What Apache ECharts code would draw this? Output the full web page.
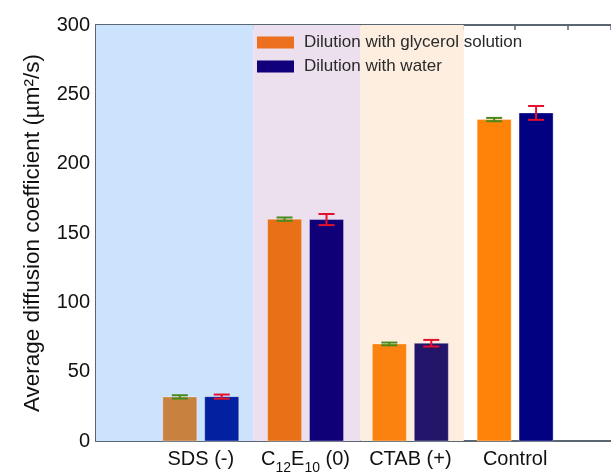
<!DOCTYPE html>
<html>
<head>
<meta charset="utf-8">
<script src="https://cdn.jsdelivr.net/npm/echarts@6/dist/echarts.min.js"></script>
<style>
  html, body { margin: 0; padding: 0; background: #fff; }
  #chart { width: 611px; height: 475px; }
</style>
</head>
<body>
<div id="chart"></div>
<script>
// Surfactant categories along the x axis
const categories = ['SDS (-)', 'C12E10 (0)', 'CTAB (+)', 'Control'];
// Average diffusion coefficient (µm²/s) and error for each dilution method
const glycerolMeans = [31.8, 160.0, 70.0, 231.8];
const glycerolErrors = [1.2, 1.2, 1.0, 1.2];
const waterMeans = [32.0, 159.7, 70.5, 236.6];
const waterErrors = [1.5, 4.0, 2.4, 5.0];
const seriesNames = ['Dilution with glycerol solution', 'Dilution with water'];
// y-axis ticks
const yTicks = [0, 50, 100, 150, 200, 250, 300];

// Per-category bar colours (bars are tinted by the shaded bands behind them)
const glycerolColors = ['#c8813f', '#e87016', '#fb820e', '#ff8308'];
const waterColors = ['#0320a0', '#0f0078', '#22156a', '#000080'];
const legendColors = ['#ec7020', '#10007a'];
// Shaded regions behind each surfactant group, in x-axis units
const bands = [
  { from: 0, to: 3, color: '#cbe3fc' },
  { from: 3, to: 5.05, color: '#ecdfee' },
  { from: 5.05, to: 7.02, color: '#fdeee0' }
];

// Each category sits on an even x position: 2, 4, 6, 8
const catX = i => 2 * (i + 1);
const labelByX = {};
categories.forEach((c, i) => { labelByX[catX(i)] = c; });

function richLabel(text) {
  if (text === 'C12E10 (0)') {
    return '{a|C}{s|12}{a|E}{s|10}{a| (0)}';
  }
  return '{a|' + text + '}';
}

function buildData(means, errs) {
  return means.map((m, i) => [catX(i), m, errs[i], i]);
}

function makeRender(offset, colors, errColor) {
  return function (params, api) {
    const x = api.value(0);
    const v = api.value(1);
    const e = api.value(2);
    const idx = api.value(3);
    const halfW = 0.325;
    const tl = api.coord([x + offset - halfW, v]);
    const br = api.coord([x + offset + halfW, 0]);
    const cx = api.coord([x + offset, v])[0];
    const yHi = api.coord([x, v + e])[1];
    const yLo = api.coord([x, v - e])[1];
    const cap = 8;
    return {
      type: 'group',
      children: [
        {
          type: 'rect',
          shape: { x: tl[0], y: tl[1], width: br[0] - tl[0], height: br[1] - tl[1] },
          style: { fill: colors[idx], stroke: 'rgba(255,255,255,0.35)', lineWidth: 1 }
        },
        {
          type: 'line',
          shape: { x1: cx, y1: yHi, x2: cx, y2: yLo },
          style: { stroke: errColor, lineWidth: 2 }
        },
        {
          type: 'line',
          shape: { x1: cx - cap, y1: yHi, x2: cx + cap, y2: yHi },
          style: { stroke: errColor, lineWidth: 2 }
        },
        {
          type: 'line',
          shape: { x1: cx - cap, y1: yLo, x2: cx + cap, y2: yLo },
          style: { stroke: errColor, lineWidth: 2 }
        }
      ]
    };
  };
}

const axisColor = '#5b6672';
const font = 'Liberation Sans, Arial, sans-serif';
const xMax = 9.83;
const chart = echarts.init(document.getElementById('chart'), null, { renderer: 'canvas' });

chart.setOption({
  animation: false,
  backgroundColor: '#ffffff',
  grid: { left: 96, right: 0, top: 25, bottom: 30, containLabel: false },
  legend: {
    orient: 'vertical',
    left: 257,
    top: 34,
    padding: 0,
    itemWidth: 37,
    itemHeight: 12,
    itemGap: 7,
    icon: 'rect',
    data: [
      { name: seriesNames[0], itemStyle: { color: legendColors[0] } },
      { name: seriesNames[1], itemStyle: { color: legendColors[1] } }
    ],
    textStyle: { fontFamily: font, fontSize: 17, lineHeight: 17, color: '#2a2a2a', padding: [0, 0, 0, 5] }
  },
  xAxis: [
    {
      type: 'value',
      position: 'bottom',
      min: 0, max: xMax, interval: 1,
      axisLine: { show: true, onZero: false, lineStyle: { color: axisColor, width: 2 } },
      axisTick: { show: false },
      splitLine: { show: false },
      axisLabel: {
        margin: 8,
        showMaxLabel: false,
        formatter: v => labelByX[v] ? richLabel(labelByX[v]) : '',
        rich: {
          a: { fontFamily: font, fontSize: 20, color: '#111', lineHeight: 24, verticalAlign: 'top' },
          s: { fontFamily: font, fontSize: 14, color: '#111', lineHeight: 14, padding: [12, 0, 0, 0], verticalAlign: 'top' }
        }
      }
    },
    {
      type: 'value',
      position: 'top',
      min: 0, max: xMax, interval: 1,
      axisLine: { show: true, onZero: false, lineStyle: { color: axisColor, width: 2 } },
      axisTick: { show: true, inside: true, length: 5, lineStyle: { color: axisColor, width: 1.5 } },
      axisLabel: { show: false },
      splitLine: { show: false }
    }
  ],
  yAxis: {
    type: 'value',
    min: yTicks[0], max: yTicks[yTicks.length - 1], interval: 50,
    name: 'Average diffusion coefficient (µm²/s)',
    nameLocation: 'middle',
    nameGap: 52,
    nameTextStyle: { fontFamily: font, fontSize: 22.5, color: '#111' },
    axisLine: { show: true, onZero: false, lineStyle: { color: axisColor, width: 2 } },
    axisTick: { show: true, inside: true, length: 5, lineStyle: { color: axisColor, width: 1.5 } },
    minorTick: { show: true, splitNumber: 2, length: 3, lineStyle: { color: axisColor, width: 1.5 } },
    axisLabel: { margin: 6, fontFamily: font, fontSize: 20, color: '#111' },
    splitLine: { show: false }
  },
  series: [
    {
      // shaded background bands
      type: 'line',
      data: [],
      silent: true,
      markArea: {
        silent: true,
        data: bands.map(b => [
          { xAxis: b.from, yAxis: yTicks[0], itemStyle: { color: b.color } },
          { xAxis: b.to, yAxis: yTicks[yTicks.length - 1] }
        ])
      }
    },
    {
      name: seriesNames[0],
      type: 'custom',
      itemStyle: { color: legendColors[0] },
      renderItem: makeRender(-0.4, glycerolColors, '#4a8a1c'),
      encode: { x: 0, y: 1 },
      data: buildData(glycerolMeans, glycerolErrors),
      z: 3
    },
    {
      name: seriesNames[1],
      type: 'custom',
      itemStyle: { color: legendColors[1] },
      renderItem: makeRender(0.4, waterColors, '#e5102c'),
      encode: { x: 0, y: 1 },
      data: buildData(waterMeans, waterErrors),
      z: 3
    }
  ]
});
</script>
</body>
</html>
